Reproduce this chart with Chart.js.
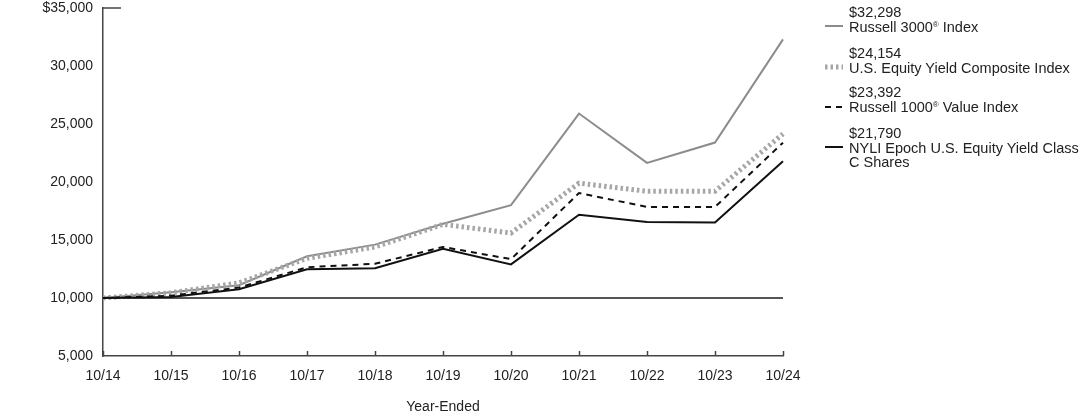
<!DOCTYPE html>
<html>
<head>
<meta charset="utf-8">
<script src="https://cdn.jsdelivr.net/npm/chart.js@4/dist/chart.umd.min.js"></script>
<style>
  html, body { margin: 0; padding: 0; background: #fff; }
  #wrap { position: relative; width: 1092px; height: 417px; }
  .leg {
    position: absolute; left: 849px;
    font: 14.5px "Liberation Sans", Arial, sans-serif;
    line-height: 14.5px; color: #222; white-space: nowrap;
  }
  .leg sup { font-size: 8px; vertical-align: 5px; line-height: 0; }
</style>
</head>
<body>
<div id="wrap">
  <canvas id="chart" width="1092" height="417"></canvas>
  <div class="leg" style="top:5px">$32,298<br>Russell 3000<sup>®</sup> Index</div>
  <div class="leg" style="top:46px">$24,154<br>U.S. Equity Yield Composite Index</div>
  <div class="leg" style="top:85px">$23,392<br>Russell 1000<sup>®</sup> Value Index</div>
  <div class="leg" style="top:126px">$21,790<br>NYLI Epoch U.S. Equity Yield Class<br>C Shares</div>
</div>
<script>
// Growth of $10,000, year-ended October
const years = ['10/14', '10/15', '10/16', '10/17', '10/18', '10/19', '10/20', '10/21', '10/22', '10/23', '10/24'];
const russell3000 = [10000, 10500, 11100, 13600, 14600, 16400, 18000, 25900, 21650, 23400, 32298];
const composite = [10000, 10450, 11300, 13420, 14400, 16350, 15600, 19900, 19200, 19200, 24154];
const russell1000Value = [10000, 10200, 10900, 12650, 12950, 14400, 13350, 19050, 17850, 17850, 23392];
const fundClassC = [10000, 10080, 10750, 12470, 12570, 14250, 12900, 17180, 16550, 16500, 21790];
const yTicks = [5000, 10000, 15000, 20000, 25000, 30000, 35000];

const axisColor = '#444';
const fontFamily = '"Liberation Sans", Arial, sans-serif';

// inward tick marks on the x axis, and the short cap line at the top of the y axis
const axisMarks = {
  id: 'axisMarks',
  afterDatasetsDraw(chart) {
    const { ctx, scales: { x, y } } = chart;
    ctx.save();
    ctx.strokeStyle = axisColor;
    ctx.lineWidth = 1.5;
    x.ticks.forEach((t, i) => {
      const px = Math.round(x.getPixelForTick(i)) + 0.5;
      ctx.beginPath();
      ctx.moveTo(px, y.bottom);
      ctx.lineTo(px, y.bottom - 5);
      ctx.stroke();
    });
    const top = y.getPixelForValue(35000);
    ctx.beginPath();
    ctx.moveTo(x.left, top);
    ctx.lineTo(x.left + 18, top);
    ctx.stroke();
    ctx.restore();
  },
  afterDraw(chart) {
    // legend line samples
    const { ctx } = chart;
    const samples = [
      { y: 26, color: '#8c8c8c', width: 2, dash: [] },
      { y: 67, color: '#a6a6a6', width: 5, dash: [2.5, 3] },
      { y: 107, color: '#111', width: 2, dash: [6, 5] },
      { y: 147, color: '#111', width: 2, dash: [] },
    ];
    ctx.save();
    samples.forEach((s) => {
      ctx.strokeStyle = s.color;
      ctx.lineWidth = s.width;
      ctx.setLineDash(s.dash);
      ctx.beginPath();
      ctx.moveTo(825, s.y);
      ctx.lineTo(843, s.y);
      ctx.stroke();
    });
    ctx.restore();
  },
};

const chartData = {
  labels: years,
  datasets: [
    {
      label: 'Russell 3000® Index',
      data: russell3000,
      borderColor: '#8c8c8c',
      borderWidth: 2,
      order: 3,
    },
    {
      label: 'U.S. Equity Yield Composite Index',
      data: composite,
      borderColor: '#a6a6a6',
      borderWidth: 5,
      borderDash: [2.5, 3],
      order: 2,
    },
    {
      label: 'Russell 1000® Value Index',
      data: russell1000Value,
      borderColor: '#111',
      borderWidth: 2,
      borderDash: [6, 5],
      order: 1,
    },
    {
      label: 'NYLI Epoch U.S. Equity Yield Class C Shares',
      data: fundClassC,
      borderColor: '#111',
      borderWidth: 2,
      order: 0,
    },
  ],
};

new Chart(document.getElementById('chart'), {
  type: 'line',
  data: chartData,
  options: {
    responsive: false,
    animation: false,
    layout: { padding: { left: 0, right: 309, top: 8, bottom: 0 } },
    elements: {
      point: { radius: 0 },
      line: { tension: 0, fill: false, borderCapStyle: 'butt' },
    },
    plugins: {
      legend: { display: false },
      tooltip: { enabled: false },
    },
    scales: {
      x: {
        offset: false,
        grid: { display: false, drawTicks: false },
        border: { display: true, color: axisColor, width: 1.5 },
        ticks: {
          padding: 12,
          color: '#222',
          font: { family: fontFamily, size: 14 },
          maxRotation: 0,
        },
        title: {
          display: true,
          text: 'Year-Ended',
          color: '#222',
          font: { family: fontFamily, size: 14 },
          padding: { top: 0, bottom: 1 },
        },
        afterFit(scale) { scale.height = 61; },
      },
      y: {
        min: 5000,
        max: 35000,
        afterBuildTicks(scale) { scale.ticks = yTicks.map((v) => ({ value: v })); },
        grid: {
          drawTicks: false,
          color: (c) => (c.tick && c.tick.value === 10000 ? '#555' : 'rgba(0,0,0,0)'),
          lineWidth: 2,
        },
        border: { display: true, color: axisColor, width: 1.5 },
        ticks: {
          padding: 10,
          color: '#222',
          font: { family: fontFamily, size: 14 },
          callback: (v) => (v === 35000 ? '$' : '') + v.toLocaleString('en-US'),
        },
        afterFit(scale) {
          scale.width = 103;
          scale.paddingTop = 0;
          scale.paddingBottom = 0;
        },
      },
    },
  },
  plugins: [axisMarks],
});
</script>
</body>
</html>
